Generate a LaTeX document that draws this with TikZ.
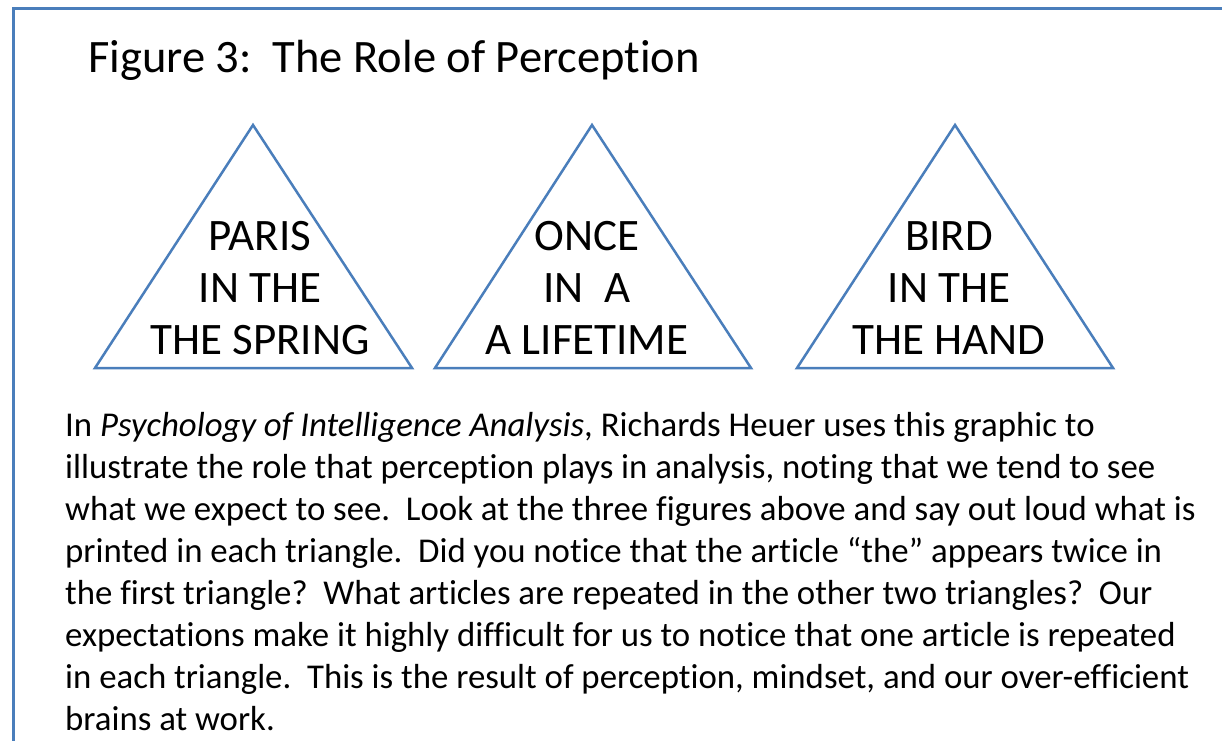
\documentclass[tikz,border=0pt]{standalone}
\usepackage{fontspec}
\setmainfont[Ligatures=NoCommon]{Carlito}
\definecolor{edgeblue}{RGB}{74,126,187}
\tikzset{
  frameline/.style={draw=edgeblue,line width=3pt},
  triline/.style={draw=edgeblue,line width=2.5pt,line join=miter},
  tritext/.style={inner sep=0pt,anchor=base,font=\fontsize{45}{52}\selectfont},
  titletext/.style={anchor=base west,inner sep=0pt,font=\fontsize{46.5}{56}\selectfont},
  bodytext/.style={anchor=base west,inner sep=0pt,font=\fontsize{34.8}{42}\selectfont}
}
\newcommand{\trilines}[3]{\vtop{\baselineskip=52pt\halign{\hfil##\hfil\cr #1\cr #2\cr #3\cr}}}
\begin{document}
\begin{tikzpicture}[x=1pt,y=-1pt]
\useasboundingbox (0,0) rectangle (1222,740);
\clip (0,0) rectangle (1222,740);
\fill[white] (0,0) rectangle (1222,740);
% frame
\coordinate (fbl) at (13,760);
\coordinate (ftl) at (13,8);
\coordinate (ftr) at (1240,8);
\draw[frameline] (fbl) -- (ftl) -- (ftr);
% title
\node[titletext] (title) at (88,72) {Figure 3:\ \ The Role of Perception};
% triangles
\coordinate (a1) at (253,125); \coordinate (l1) at (95,368); \coordinate (r1) at (412,368);
\coordinate (a2) at (592,125); \coordinate (l2) at (435,368); \coordinate (r2) at (751,368);
\coordinate (a3) at (955,125); \coordinate (l3) at (797,368); \coordinate (r3) at (1113,368);
\draw[triline] (a1) -- (l1) -- (r1) -- cycle;
\draw[triline] (a2) -- (l2) -- (r2) -- cycle;
\draw[triline] (a3) -- (l3) -- (r3) -- cycle;
\node[tritext] (t1) at (260,250) {\trilines{PARIS}{IN THE}{THE SPRING}};
\node[tritext] (t2) at (587,250) {\trilines{ONCE}{IN\ \ A}{A LIFETIME}};
\node[tritext] (t3) at (949,250) {\trilines{BIRD}{IN THE}{THE HAND}};
% body
\node[bodytext] (body) at (65,436) {\vtop{\baselineskip=42pt
\hbox{In \textit{Psychology of Intelligence Analysis}, Richards Heuer uses this graphic to}
\hbox{illustrate the role that perception plays in analysis, noting that we tend to see}
\hbox{what we expect to see.\ \ Look at the three figures above and say out loud what is}
\hbox{printed in each triangle.\ \ Did you notice that the article “the” appears twice in}
\hbox{the first triangle?\ \ What articles are repeated in the other two triangles?\ \ Our}
\hbox{expectations make it highly difficult for us to notice that one article is repeated}
\hbox{in each triangle.\ \ This is the result of perception, mindset, and our over-efficient}
\hbox{brains at work.}}};
\end{tikzpicture}
\end{document}
